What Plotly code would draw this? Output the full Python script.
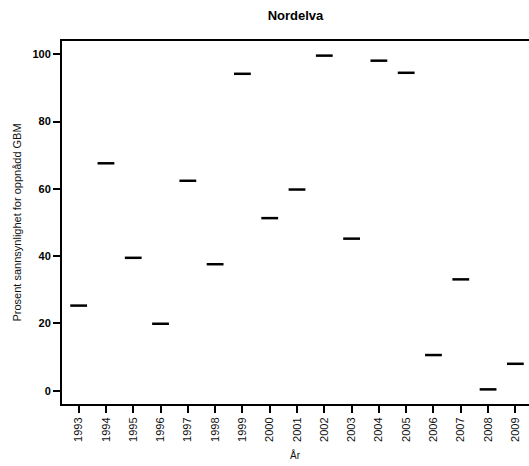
import plotly.graph_objects as go

years = list(range(1993, 2010))
values = [25.3, 67.6, 39.5, 19.9, 62.4, 37.6, 94.2, 51.3, 59.8, 99.6,
          45.2, 98.1, 94.5, 10.6, 33.1, 0.4, 8.0]
y_ticks = [0, 20, 40, 60, 80, 100]

FONT = "Liberation Sans"

fig = go.Figure()
fig.add_trace(go.Scatter(
    x=years, y=values, mode="markers",
    marker=dict(symbol="line-ew", size=12, color="black",
                line=dict(color="black", width=2.5)),
    hoverinfo="x+y", showlegend=False,
))

fig.update_layout(
    width=529, height=466,
    margin=dict(l=62, r=0, t=41, b=62),
    paper_bgcolor="white", plot_bgcolor="white",
    title=dict(text="<b>Nordelva</b>", x=0.5, xref="paper", xanchor="center",
               y=1 - 15 / 466, yref="container", yanchor="middle",
               font=dict(family=FONT, size=13, color="black")),
    xaxis=dict(
        range=[1992.39, 2009.5], tickmode="array", tickvals=years,
        ticktext=[str(y) for y in years], tickangle=-90,
        ticks="outside", ticklen=7, tickwidth=1.5, tickcolor="black",
        showline=True, linewidth=2, linecolor="black", mirror=True,
        showgrid=False, zeroline=False,
        tickfont=dict(family=FONT, size=11, color="#111"),
    ),
    yaxis=dict(
        range=[-3.95, 103.95], tickmode="array", tickvals=y_ticks,
        ticktext=["<b>%d</b>" % v for v in y_ticks],
        ticks="outside", ticklen=7, tickwidth=1.5, tickcolor="black",
        showline=True, linewidth=2, linecolor="black",
        showgrid=False, zeroline=False,
        tickfont=dict(family=FONT, size=11, color="black"),
    ),
    annotations=[
        dict(text="Prosent sannsynlighet for oppnådd GBM", textangle=-90,
             xref="paper", yref="paper", x=0, y=0.5, xshift=-46,
             xanchor="center", yanchor="middle", showarrow=False,
             font=dict(family=FONT, size=11, color="#111")),
        dict(text="År", xref="paper", yref="paper", x=0.5, y=0, yshift=-51,
             xanchor="center", yanchor="middle", showarrow=False,
             font=dict(family=FONT, size=10, color="#111")),
    ],
)

fig.write_html("out.html", config={"displayModeBar": False},
               post_script="document.body.style.margin='0';document.body.style.overflow='hidden';")
